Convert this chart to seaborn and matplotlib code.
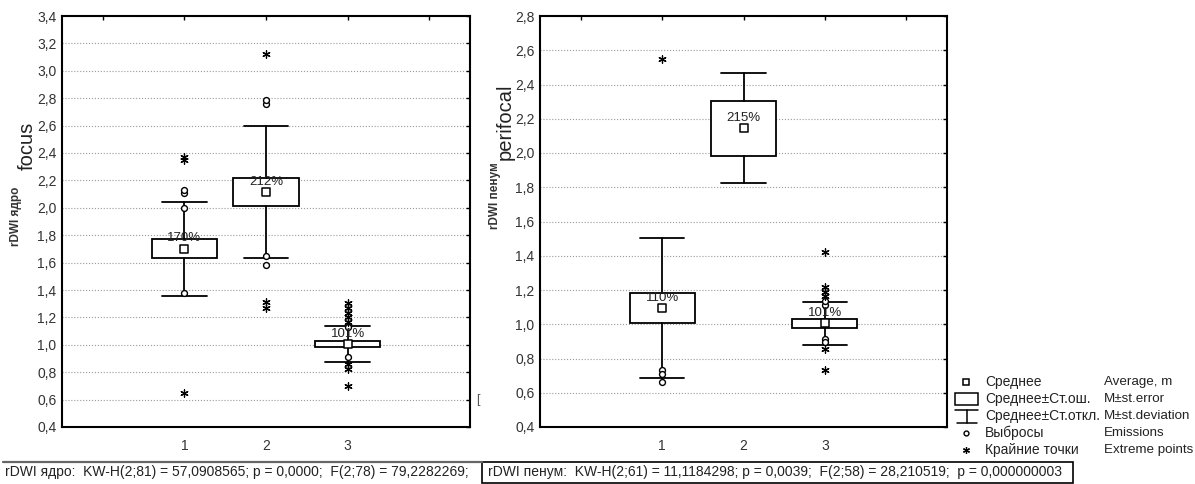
import numpy as np
import pandas as pd
import matplotlib
matplotlib.use("Agg")
import matplotlib.pyplot as plt
from matplotlib.lines import Line2D
from matplotlib.patches import Rectangle
import seaborn as sns

sns.set_style("white")
plt.rcParams["font.family"] = ["Liberation Sans", "DejaVu Sans"]

groups = [1, 2, 3]

# rDWI ядро (focus): mean, standard error, standard deviation
focus_mean = [1.70, 2.115, 1.005]
focus_se = [0.07, 0.105, 0.022]
focus_sd = [0.345, 0.48, 0.132]
focus_pct = ["170%", "212%", "101%"]
focus_out_x = [1, 1, 1, 1, 2, 2, 2, 2, 3, 3]
focus_out_y = [2.00, 2.11, 2.13, 1.38, 2.76, 2.79, 1.645, 1.58, 0.91, 1.13]
focus_ext_x = [1, 1, 1, 2, 2, 2, 3, 3, 3, 3, 3, 3, 3, 3]
focus_ext_y = [2.35, 2.37, 0.65, 3.12, 1.31, 1.27, 1.305, 1.27, 1.235, 1.20, 1.17, 0.86, 0.82, 0.70]
focus_yticks = [0.4, 0.6, 0.8, 1.0, 1.2, 1.4, 1.6, 1.8, 2.0, 2.2, 2.4, 2.6, 2.8, 3.0, 3.2, 3.4]

# rDWI пенум (perifocal)
peri_mean = [1.095, 2.144, 1.005]
peri_se = [0.086, 0.161, 0.026]
peri_sd = [0.41, 0.321, 0.127]
peri_pct = ["110%", "215%", "101%"]
peri_out_x = [1, 1, 1, 3, 3, 3, 3]
peri_out_y = [0.735, 0.71, 0.66, 1.11, 1.135, 0.915, 0.895]
peri_ext_x = [1, 3, 3, 3, 3, 3, 3]
peri_ext_y = [2.55, 1.42, 1.215, 1.19, 1.165, 0.855, 0.73]
peri_yticks = [0.4, 0.6, 0.8, 1.0, 1.2, 1.4, 1.6, 1.8, 2.0, 2.2, 2.4, 2.6, 2.8]

x_ticks = [0, 1, 2, 3, 4]
x_labels = ["", "1", "2", "3", ""]

W, H = 1195, 484


def fx(x):
    return x / W


def fy(y):
    return 1 - y / H


fig = plt.figure(figsize=(W / 100, H / 100), dpi=100)
ax1 = fig.add_axes([fx(62), fy(427), 408 / W, 411 / H])
ax2 = fig.add_axes([fx(540), fy(427), 407 / W, 411 / H])


def panel(ax, mean, se, sd, pct, out_x, out_y, ext_x, ext_y, yticks):
    stats = []
    for m, s, d in zip(mean, se, sd):
        stats.append({"med": m, "q1": m - s, "q3": m + s,
                      "whislo": m - d, "whishi": m + d, "fliers": []})
    line = dict(color="black", lw=1.3)
    ax.bxp(stats, positions=groups, widths=0.8, capwidths=0.55, showfliers=False,
           patch_artist=True, manage_ticks=False,
           boxprops=dict(facecolor="white", edgecolor="black", lw=1.3),
           whiskerprops=line, capprops=line, medianprops=dict(lw=0), zorder=2)

    # means, outliers and extreme points
    sns.scatterplot(x=groups, y=mean, ax=ax, marker="s", s=30, color="white",
                    edgecolor="black", linewidth=1.1, zorder=4)
    sns.scatterplot(x=out_x, y=out_y, ax=ax, marker="o", s=18, color="white",
                    edgecolor="black", linewidth=1.0, zorder=4)
    sns.scatterplot(x=ext_x, y=ext_y, ax=ax, marker=(6, 2, 0), s=28, color="black",
                    linewidth=0.9, zorder=4)

    for g, m, p in zip(groups, mean, pct):
        ax.annotate(p, (g, m), xytext=(0, 7.5), textcoords="offset points",
                    ha="center", va="center", fontsize=9.5, color="#222", zorder=5)

    ax.set_xlim(-0.5, 4.5)
    ax.set_ylim(yticks[0], yticks[-1])
    ax.set_xticks(x_ticks)
    ax.set_xticklabels(x_labels)
    ax.set_yticks(yticks)
    ax.set_yticklabels([f"{t:.1f}".replace(".", ",") for t in yticks])
    ax.set_xlabel("")
    ax.set_ylabel("")
    ax.yaxis.grid(True, linestyle=":", color="#9a9a9a", lw=0.8)
    ax.xaxis.grid(False)
    ax.set_axisbelow(True)
    ax.tick_params(direction="in", top=True, right=True, length=3, width=1,
                   labelsize=10, labelcolor="#333", colors="black")
    ax.tick_params(axis="x", pad=9, labelcolor="#333")
    ax.tick_params(axis="y", pad=4)
    for sp in ax.spines.values():
        sp.set_linewidth(1.5)
        sp.set_color("black")


panel(ax1, focus_mean, focus_se, focus_sd, focus_pct,
      focus_out_x, focus_out_y, focus_ext_x, focus_ext_y, focus_yticks)
panel(ax2, peri_mean, peri_se, peri_sd, peri_pct,
      peri_out_x, peri_out_y, peri_ext_x, peri_ext_y, peri_yticks)

# axis titles
fig.text(fx(16), fy(216), "rDWI ядро", rotation=90, fontsize=8.5, fontweight="bold",
         ha="center", va="center", color="#333")
fig.text(fx(27), fy(146), "focus", rotation=90, fontsize=14.5, ha="center", va="center", color="#222")
fig.text(fx(495), fy(196), "rDWI пенум", rotation=90, fontsize=8.5, fontweight="bold",
         ha="center", va="center", color="#333")
fig.text(fx(505), fy(122), "perifocal", rotation=90, fontsize=14.5, ha="center", va="center", color="#222")
fig.text(fx(478), fy(400), "[", fontsize=9, ha="center", va="center", color="#555")

# legend
rows = [382, 399, 416, 433, 450]
ru = ["Среднее", "Среднее±Ст.ош.", "Среднее±Ст.откл.", "Выбросы", "Крайние точки"]
en = ["Average, m", "M±st.error", "M±st.deviation", "Emissions", "Extreme points"]
for r, a, b in zip(rows, ru, en):
    fig.text(fx(985), fy(r), a, fontsize=10, ha="left", va="center", color="#222")
    fig.text(fx(1104), fy(r), b, fontsize=9.6, ha="left", va="center", color="#222")
fig.add_artist(Line2D([fx(966)], [fy(rows[0])], marker="s", ms=4.5, mfc="white", mec="black",
                      mew=1.1, transform=fig.transFigure))
fig.add_artist(Rectangle((fx(955), fy(405)), 23 / W, 12 / H, fill=False, ec="black", lw=1.1,
                         transform=fig.transFigure))
fig.add_artist(Line2D([fx(955), fx(978)], [fy(410), fy(410)], color="black", lw=1.1, transform=fig.transFigure))
fig.add_artist(Line2D([fx(966.5), fx(966.5)], [fy(410), fy(423)], color="black", lw=1.1, transform=fig.transFigure))
fig.add_artist(Line2D([fx(957), fx(977)], [fy(423), fy(423)], color="black", lw=1.1, transform=fig.transFigure))
fig.add_artist(Line2D([fx(966)], [fy(rows[3])], marker="o", ms=3.5, mfc="white", mec="black",
                      mew=1.0, transform=fig.transFigure))
fig.add_artist(Line2D([fx(966)], [fy(rows[4])], marker=(6, 2, 0), ms=5, color="black",
                      mew=0.9, transform=fig.transFigure))

# statistics lines at the bottom
fig.add_artist(Line2D([fx(3), fx(482)], [fy(462), fy(462)], color="#666", lw=1.6, transform=fig.transFigure))
fig.text(fx(5), fy(472), "rDWI ядро:  KW-H(2;81) = 57,0908565; p = 0,0000;  F(2;78) = 79,2282269;",
         fontsize=10, ha="left", va="center", color="#222")
fig.add_artist(Rectangle((fx(482), fy(483)), 591 / W, 21 / H, fill=False, ec="black", lw=1.2,
                         transform=fig.transFigure))
fig.text(fx(488), fy(472), "rDWI пенум:  KW-H(2;61) = 11,1184298; p = 0,0039;  F(2;58) = 28,210519;  p = 0,000000003",
         fontsize=10, ha="left", va="center", color="#222")

fig.savefig("out.png", dpi=100)
